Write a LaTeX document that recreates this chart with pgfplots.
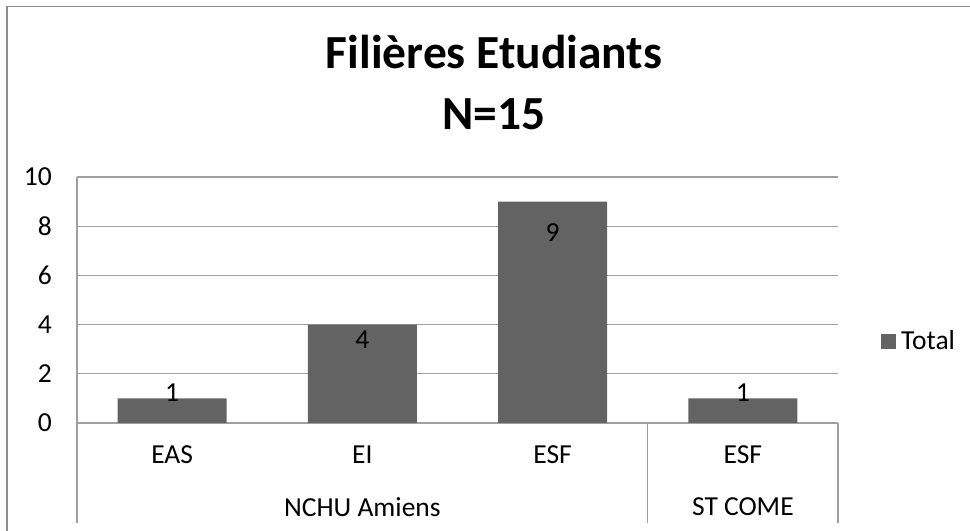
\documentclass[border=0pt]{standalone}
\usepackage{pgfplots}
\pgfplotsset{compat=1.18}
\usepackage{fontspec}
\setmainfont{Carlito}
\definecolor{barcol}{RGB}{99,99,99}
\definecolor{gridcol}{RGB}{160,160,160}
\definecolor{framecol}{RGB}{140,140,140}
\newcommand{\lbl}{\fontsize{27.5bp}{32bp}\selectfont}
\begin{document}
\begin{tikzpicture}[x=1bp,y=1bp]
\path[use as bounding box] (0,0) rectangle (970,531);
\draw[framecol, line width=1.5bp] (7,0) -- (7,524.5) -- (970,524.5);
\node[anchor=base, font=\fontsize{47.5bp}{56bp}\selectfont\bfseries] at (494,462) {Filières Etudiants};
\node[anchor=base, font=\fontsize{47.5bp}{56bp}\selectfont\bfseries] at (494,401) {N=15};
\begin{axis}[
  at={(77bp,108bp)}, anchor=south west, scale only axis,
  width=761bp, height=246bp,
  xmin=-0.5, xmax=3.5, ymin=0, ymax=10,
  ytick={0,2,4,6,8,10},
  xtick={0,1,2,3}, xticklabels={EAS,EI,ESF,ESF},
  axis x line=bottom, axis y line=left,
  axis line style={gridcol, line width=1.2bp, -},
  ymajorgrids, major grid style={gridcol, line width=1.2bp},
  major tick length=0pt,
  tick label style={font=\lbl},
  /pgf/number format/assume math mode=true,
  yticklabel style={anchor=east, inner sep=0pt, xshift=-25bp},
  xticklabel style={anchor=center, yshift=-32bp},
  clip=false,
  legend style={at={(1.0565,0.333)}, anchor=west, draw=none, fill=none,
    inner sep=0pt, font=\lbl},
  legend image code/.code={\fill[barcol] (0bp,-7.5bp) rectangle (15bp,7.5bp); \path (18bp,0bp);},
]
\addplot[ybar, bar width=109bp, fill=barcol, draw=none] coordinates {(0,1) (1,4) (2,9) (3,1)};
\addlegendentry{Total}
\addplot[draw=none, mark=none, forget plot, nodes near coords, point meta=explicit symbolic,
  nodes near coords style={anchor=center, font=\lbl, text=black}]
  coordinates {(0,1.22) [1] (1,3.37) [4] (2,7.76) [9] (3,1.22) [1]};
\draw[gridcol, line width=1.2bp] (axis cs:-0.5,0) -- ++(0bp,-100bp);
\draw[gridcol, line width=1.2bp] (axis cs:2.5,0) -- ++(0bp,-100bp);
\draw[gridcol, line width=1.2bp] (axis cs:3.5,0) -- ++(0bp,-100bp);
\node[font=\lbl, yshift=-84bp] at (axis cs:1,0) {NCHU Amiens};
\node[font=\lbl, yshift=-84bp] at (axis cs:3,0) {ST COME};
\end{axis}
\end{tikzpicture}
\end{document}
